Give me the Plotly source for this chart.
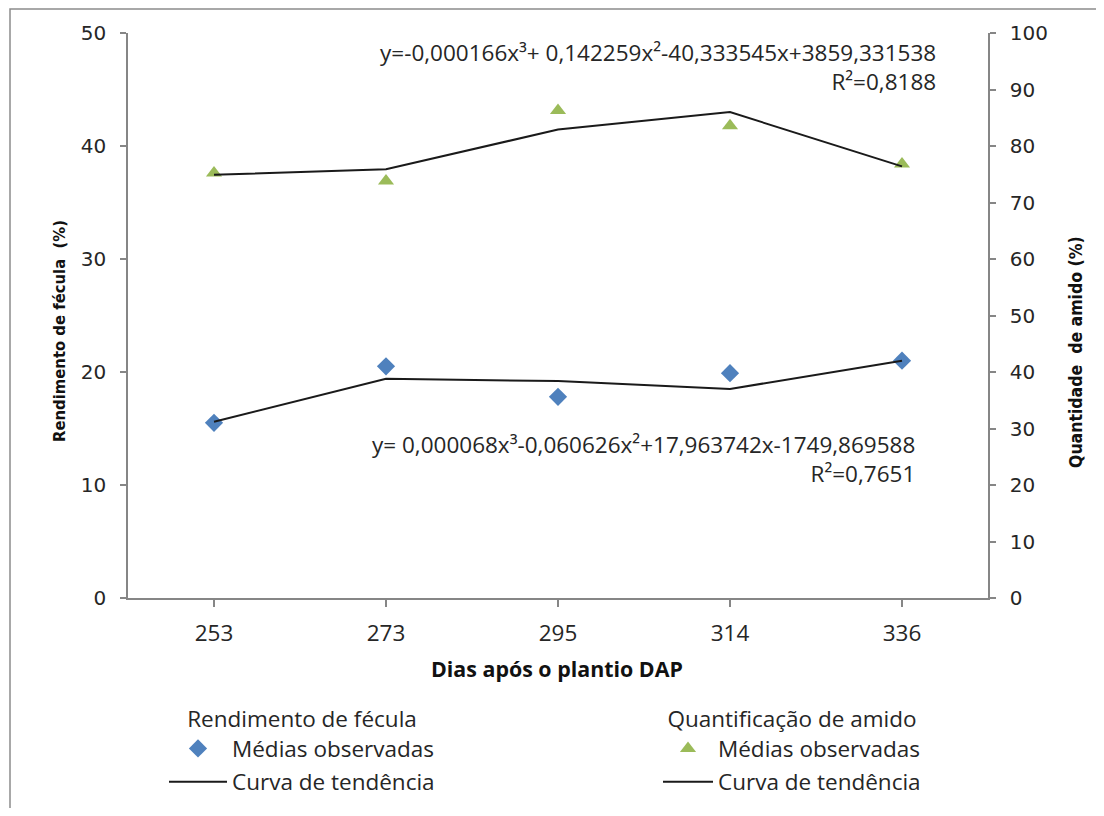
import plotly.graph_objects as go

# ---- data ----
dap = ["253", "273", "295", "314", "336"]
fecula_obs = [15.5, 20.5, 17.8, 19.9, 21.0]
fecula_trend = [15.6, 19.4, 19.2, 18.5, 21.0]
amido_obs = [75.2, 73.8, 86.3, 83.6, 76.8]
amido_trend = [74.9, 75.9, 82.9, 86.0, 76.4]

eq_amido = "y=-0,000166x³+ 0,142259x²-40,333545x+3859,331538"
r2_amido = "R²=0,8188"
eq_fecula = "y= 0,000068x³-0,060626x²+17,963742x-1749,869588"
r2_fecula = "R²=0,7651"

OFF = 8  # default page body margin
W, H = 1104 - 2 * OFF, 816 - 2 * OFF
# plot area in page pixels
PL, PR, PT, PB = 128, 988, 33, 598
L, R, T, B = PL - OFF, PR - OFF, PT - OFF, PB - OFF


def px(x):  # page x -> paper
    return (x - PL) / (PR - PL)


def py(y):  # page y -> paper
    return (PB - y) / (PB - PT)


def cx(x):  # page x -> container
    return (x - OFF) / W


def cy(y):  # page y -> container
    return 1 - (y - OFF) / H


BLUE = "#4F81BD"
GREEN = "#9BBB59"
AXC = "#868686"
TXT = "#262626"
FONT_T = "Open Sans"
FS = 22.5

fig = go.Figure()
fig.add_trace(go.Scatter(
    x=dap, y=fecula_obs, mode="markers", name="Médias observadas",
    marker=dict(symbol="diamond", size=14, color=BLUE),
    legend="legend", legendgroup="a1", legendrank=1))
fig.add_trace(go.Scatter(
    x=dap, y=fecula_trend, mode="lines", name="Curva de tendência",
    line=dict(color="#1a1a1a", width=2),
    legend="legend", legendgroup="a2", legendrank=2))
fig.add_trace(go.Scatter(
    x=dap, y=amido_obs, mode="markers", name="Médias observadas", yaxis="y2",
    marker=dict(symbol="triangle-up", size=14, color=GREEN),
    legend="legend2", legendgroup="b1", legendrank=1))
fig.add_trace(go.Scatter(
    x=dap, y=amido_trend, mode="lines", name="Curva de tendência", yaxis="y2",
    line=dict(color="#1a1a1a", width=2),
    legend="legend2", legendgroup="b2", legendrank=2))

tickfont = dict(family="DejaVu Sans", size=20, color=TXT)

fig.update_layout(
    width=W, height=H,
    margin=dict(l=L, r=W - R, t=T, b=H - B, autoexpand=False),
    paper_bgcolor="white", plot_bgcolor="white",
    showlegend=True,
    xaxis=dict(
        type="category", range=[-0.5, 4.5], automargin=False,
        showline=True, linecolor=AXC, linewidth=1.5,
        ticks="outside", ticklen=7, tickcolor=AXC, tickwidth=1.5,
        showgrid=False, zeroline=False,
        tickfont=dict(family=FONT_T, size=FS, color=TXT),
        ticklabelstandoff=7,
    ),
    yaxis=dict(
        range=[0, 50], tickvals=[0, 10, 20, 30, 40, 50], automargin=False,
        showline=True, linecolor=AXC, linewidth=1.5,
        ticks="outside", ticklen=6, tickcolor=AXC, tickwidth=1.5,
        showgrid=False, zeroline=False, tickfont=tickfont,
        ticklabelstandoff=10,
    ),
    yaxis2=dict(
        range=[0, 100], tickvals=list(range(0, 101, 10)), automargin=False,
        overlaying="y", side="right",
        showline=True, linecolor=AXC, linewidth=1.5,
        ticks="outside", ticklen=6, tickcolor=AXC, tickwidth=1.5,
        showgrid=False, zeroline=False, tickfont=tickfont,
        ticklabelstandoff=10,
    ),
    legend=dict(
        xref="container", yref="container",
        x=cx(164), y=cy(698), xanchor="left", yanchor="top",
        orientation="v", traceorder="grouped", tracegroupgap=1,
        title=dict(text="Rendimento de fécula", side="top center",
                   font=dict(family=FONT_T, size=FS, color=TXT)),
        font=dict(family=FONT_T, size=FS, color=TXT),
        bgcolor="rgba(0,0,0,0)", itemwidth=58,
    ),
    legend2=dict(
        xref="container", yref="container",
        x=cx(658), y=cy(698), xanchor="left", yanchor="top",
        orientation="v", traceorder="grouped", tracegroupgap=1,
        title=dict(text="Quantificação de amido", side="top center",
                   font=dict(family=FONT_T, size=FS, color=TXT)),
        font=dict(family=FONT_T, size=FS, color=TXT),
        bgcolor="rgba(0,0,0,0)", itemwidth=50,
    ),
)

ann_font = dict(family=FONT_T, size=FS, color=TXT)
anns = [
    dict(text=eq_amido + "<br>" + r2_amido, x=px(938), y=py(67)),
    dict(text=eq_fecula + "<br>" + r2_fecula, x=px(917), y=py(459)),
]
for a in anns:
    fig.add_annotation(xref="paper", yref="paper", showarrow=False, font=ann_font,
                       align="right", xanchor="right", yanchor="middle", **a)

fig.add_annotation(xref="paper", yref="paper", x=px(59), y=py(331), text="<b>Rendimento de fécula  (%)</b>",
                   textangle=-90, showarrow=False,
                   font=dict(family="DejaVu Sans Condensed, DejaVu Sans", size=16.5, color="#111111", weight="bold"),
                   xanchor="center", yanchor="middle")
fig.add_annotation(xref="paper", yref="paper", x=px(1076), y=py(352), text="<b>Quantidade  de amido (%)</b>",
                   textangle=-90, showarrow=False,
                   font=dict(family="DejaVu Sans Condensed, DejaVu Sans", size=17.5, color="#111111", weight="bold"),
                   xanchor="center", yanchor="middle")
fig.add_annotation(xref="paper", yref="paper", x=px(557), y=py(668), text="<b>Dias após o plantio DAP</b>",
                   showarrow=False, font=dict(family=FONT_T, size=21.4, color="#111111", weight="bold"),
                   xanchor="center", yanchor="middle")

# outer chart-area border
fig.add_shape(type="rect", xref="paper", yref="paper",
              x0=px(10), x1=px(1101), y0=py(840), y1=py(9),
              line=dict(color="#8c8c8c", width=1.5), layer="below")

fig.write_html("out.html")
